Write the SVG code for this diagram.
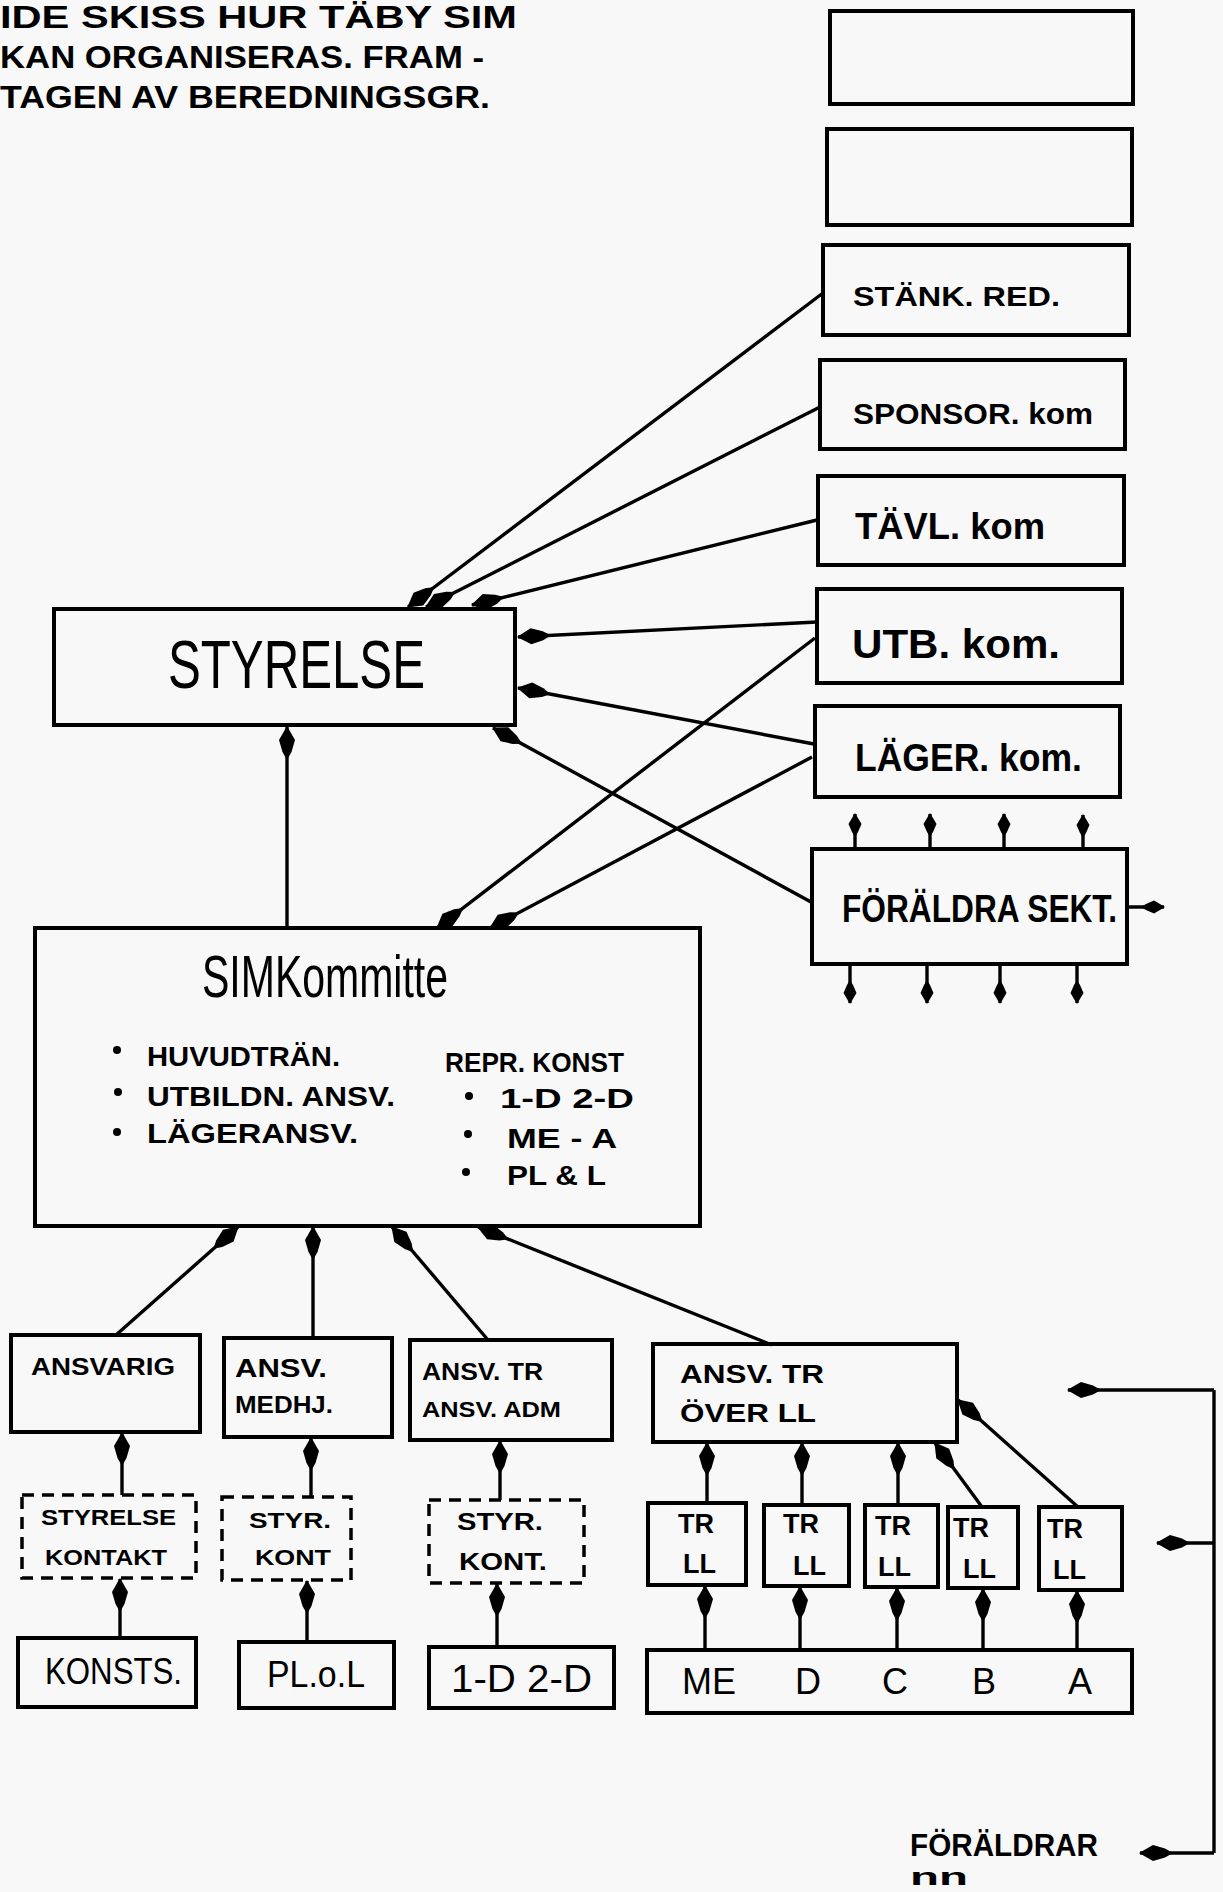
<svg xmlns="http://www.w3.org/2000/svg" width="1223" height="1892" viewBox="0 0 1223 1892">
<defs>
<style>
.bx{fill:none;stroke:#000;stroke-width:4}
.dbx{fill:none;stroke:#000;stroke-width:3.5;stroke-dasharray:12 8}
.cn{fill:none;stroke:#000;stroke-width:3.4}
.t{font-family:"Liberation Sans","DejaVu Sans",sans-serif;font-weight:bold;fill:#000}
.tn{font-family:"Liberation Sans","DejaVu Sans",sans-serif;font-weight:normal;fill:#000}
.dot{fill:#000}
</style>
<marker id="ah" viewBox="0 0 34 18" refX="33" refY="9" markerWidth="34" markerHeight="18" markerUnits="userSpaceOnUse" orient="auto">
<path d="M34,9 L20,1 L8,4.5 L0,9 L8,13.5 L20,17 Z" fill="#000"/>
</marker>
<marker id="ahs" viewBox="0 0 24 14" refX="23" refY="7" markerWidth="24" markerHeight="14" markerUnits="userSpaceOnUse" orient="auto">
<path d="M24,7 L13,0.5 L5,4 L0,7 L5,10 L13,13.5 Z" fill="#000"/>
</marker>
</defs>
<rect x="0" y="0" width="1223" height="1892" fill="#f8f8f8"/>

<g id="header">
<text class="t" x="0" y="28" font-size="32" textLength="517" lengthAdjust="spacingAndGlyphs">IDE SKISS HUR TÄBY SIM</text>
<text class="t" x="0" y="68" font-size="32" textLength="484" lengthAdjust="spacingAndGlyphs">KAN ORGANISERAS. FRAM -</text>
<text class="t" x="0" y="108" font-size="32" textLength="490" lengthAdjust="spacingAndGlyphs">TAGEN AV BEREDNINGSGR.</text>
</g>

<g id="connectors">
<path class="cn" d="M823,293 L408,607" marker-end="url(#ah)"/>
<path class="cn" d="M820,407 L426,607" marker-end="url(#ah)"/>
<path class="cn" d="M817,520 L472,605" marker-end="url(#ah)"/>
<path class="cn" d="M817,622 L518,637" marker-end="url(#ah)"/>
<path class="cn" d="M814,744 L518,688" marker-end="url(#ah)"/>
<path class="cn" d="M811,902 L493,728" marker-end="url(#ah)"/>
<path class="cn" d="M815,638 L437,928" marker-end="url(#ah)"/>
<path class="cn" d="M812,757 L490,928" marker-end="url(#ah)"/>
<path class="cn" d="M287,928 L287,727" marker-end="url(#ah)"/>
<path class="cn" d="M855,849 L855,814" marker-end="url(#ahs)"/>
<path class="cn" d="M930,849 L930,814" marker-end="url(#ahs)"/>
<path class="cn" d="M1004,849 L1004,814" marker-end="url(#ahs)"/>
<path class="cn" d="M1083,849 L1083,815" marker-end="url(#ahs)"/>
<path class="cn" d="M850,965 L850,1003" marker-end="url(#ahs)"/>
<path class="cn" d="M927,965 L927,1003" marker-end="url(#ahs)"/>
<path class="cn" d="M1000,965 L1000,1003" marker-end="url(#ahs)"/>
<path class="cn" d="M1077,965 L1077,1003" marker-end="url(#ahs)"/>
<path class="cn" d="M1127,907 L1164,907" marker-end="url(#ahs)"/>
<path class="cn" d="M116,1335 L238,1227" marker-end="url(#ah)"/>
<path class="cn" d="M313,1338 L313,1227" marker-end="url(#ah)"/>
<path class="cn" d="M488,1340 L392,1227" marker-end="url(#ah)"/>
<path class="cn" d="M772,1345 L478,1227" marker-end="url(#ah)"/>
<path class="cn" d="M122,1495 L122,1433" marker-end="url(#ah)"/>
<path class="cn" d="M311,1497 L311,1438" marker-end="url(#ah)"/>
<path class="cn" d="M500,1500 L500,1441" marker-end="url(#ah)"/>
<path class="cn" d="M120,1638 L120,1579" marker-end="url(#ah)"/>
<path class="cn" d="M307,1642 L307,1581" marker-end="url(#ah)"/>
<path class="cn" d="M497,1647 L497,1584" marker-end="url(#ah)"/>
<path class="cn" d="M707,1503 L707,1443" marker-end="url(#ah)"/>
<path class="cn" d="M802,1505 L802,1443" marker-end="url(#ah)"/>
<path class="cn" d="M898,1505 L898,1443" marker-end="url(#ah)"/>
<path class="cn" d="M982,1507 L935,1443" marker-end="url(#ah)"/>
<path class="cn" d="M1078,1507 L958,1400" marker-end="url(#ah)"/>
<path class="cn" d="M705,1650 L705,1586" marker-end="url(#ah)"/>
<path class="cn" d="M800,1650 L800,1587" marker-end="url(#ah)"/>
<path class="cn" d="M897,1650 L897,1588" marker-end="url(#ah)"/>
<path class="cn" d="M983,1650 L983,1589" marker-end="url(#ah)"/>
<path class="cn" d="M1077,1650 L1077,1591" marker-end="url(#ah)"/>
<path class="cn" d="M1214,1390 L1214,1853"/>
<path class="cn" d="M1214,1390 L1068,1390" marker-end="url(#ah)"/>
<path class="cn" d="M1214,1543 L1157,1543" marker-end="url(#ah)"/>
<path class="cn" d="M1214,1853 L1140,1853" marker-end="url(#ah)"/>
</g>

<g id="box-empty-1"><rect class="bx" x="830" y="11" width="303" height="93"/></g>
<g id="box-empty-2"><rect class="bx" x="827" y="129" width="305" height="96"/></g>
<g id="stank-red"><rect class="bx" x="823" y="245" width="306" height="90"/>
<text class="t" x="853" y="306" font-size="28" textLength="207" lengthAdjust="spacingAndGlyphs">STÄNK. RED.</text></g>
<g id="sponsor-kom"><rect class="bx" x="820" y="360" width="305" height="89"/>
<text class="t" x="853" y="424" font-size="30" textLength="240" lengthAdjust="spacingAndGlyphs">SPONSOR. kom</text></g>
<g id="tavl-kom"><rect class="bx" x="818" y="476" width="306" height="89"/>
<text class="t" x="855" y="539" font-size="36" textLength="190" lengthAdjust="spacingAndGlyphs">TÄVL. kom</text></g>
<g id="utb-kom"><rect class="bx" x="817" y="589" width="305" height="94"/>
<text class="t" x="852" y="658" font-size="40" textLength="208" lengthAdjust="spacingAndGlyphs">UTB. kom.</text></g>
<g id="lager-kom"><rect class="bx" x="815" y="706" width="305" height="91"/>
<text class="t" x="855" y="771" font-size="38" textLength="227" lengthAdjust="spacingAndGlyphs">LÄGER. kom.</text></g>
<g id="foraldra-sekt"><rect class="bx" x="812" y="849" width="315" height="115"/>
<text class="t" x="842" y="922" font-size="38" textLength="275" lengthAdjust="spacingAndGlyphs">FÖRÄLDRA SEKT.</text></g>

<g id="styrelse"><rect class="bx" x="54" y="609" width="461" height="116"/>
<text class="tn" x="168" y="688" font-size="68" textLength="257" lengthAdjust="spacingAndGlyphs">STYRELSE</text></g>

<g id="simkommitte"><rect class="bx" x="35" y="928" width="665" height="298"/>
<text class="tn" x="202" y="997" font-size="60" textLength="246" lengthAdjust="spacingAndGlyphs">SIMKommitte</text>
<circle class="dot" cx="117" cy="1050" r="4"/>
<circle class="dot" cx="118" cy="1092" r="4"/>
<circle class="dot" cx="117" cy="1132" r="4"/>
<text class="t" x="147" y="1066" font-size="28" textLength="193" lengthAdjust="spacingAndGlyphs">HUVUDTRÄN.</text>
<text class="t" x="147" y="1106" font-size="28" textLength="248" lengthAdjust="spacingAndGlyphs">UTBILDN. ANSV.</text>
<text class="t" x="147" y="1143" font-size="28" textLength="211" lengthAdjust="spacingAndGlyphs">LÄGERANSV.</text>
<text class="t" x="445" y="1072" font-size="28" textLength="179" lengthAdjust="spacingAndGlyphs">REPR. KONST</text>
<circle class="dot" cx="469" cy="1096" r="4"/>
<circle class="dot" cx="468" cy="1134" r="4"/>
<circle class="dot" cx="466" cy="1172" r="4"/>
<text class="t" x="500" y="1108" font-size="28" textLength="134" lengthAdjust="spacingAndGlyphs">1-D 2-D</text>
<text class="t" x="507" y="1148" font-size="28" textLength="110" lengthAdjust="spacingAndGlyphs">ME - A</text>
<text class="t" x="507" y="1185" font-size="28" textLength="99" lengthAdjust="spacingAndGlyphs">PL &amp; L</text>
</g>

<g id="ansvarig"><rect class="bx" x="11" y="1335" width="189" height="97"/>
<text class="t" x="31" y="1375" font-size="24" textLength="144" lengthAdjust="spacingAndGlyphs">ANSVARIG</text></g>
<g id="ansv-medhj"><rect class="bx" x="224" y="1338" width="168" height="99"/>
<text class="t" x="235" y="1377" font-size="26" textLength="92" lengthAdjust="spacingAndGlyphs">ANSV.</text>
<text class="t" x="235" y="1413" font-size="24" textLength="98" lengthAdjust="spacingAndGlyphs">MEDHJ.</text></g>
<g id="ansv-tr-adm"><rect class="bx" x="410" y="1340" width="202" height="100"/>
<text class="t" x="422" y="1380" font-size="24" textLength="121" lengthAdjust="spacingAndGlyphs">ANSV. TR</text>
<text class="t" x="422" y="1417" font-size="22" textLength="139" lengthAdjust="spacingAndGlyphs">ANSV. ADM</text></g>
<g id="ansv-tr-over-ll"><rect class="bx" x="653" y="1344" width="304" height="98"/>
<text class="t" x="680" y="1383" font-size="26" textLength="144" lengthAdjust="spacingAndGlyphs">ANSV. TR</text>
<text class="t" x="680" y="1422" font-size="26" textLength="136" lengthAdjust="spacingAndGlyphs">ÖVER LL</text></g>

<g id="styrelse-kontakt"><rect class="dbx" x="22" y="1495" width="174" height="83"/>
<text class="t" x="41" y="1525" font-size="22" textLength="135" lengthAdjust="spacingAndGlyphs">STYRELSE</text>
<text class="t" x="45" y="1565" font-size="22" textLength="122" lengthAdjust="spacingAndGlyphs">KONTAKT</text></g>
<g id="styr-kont-1"><rect class="dbx" x="222" y="1497" width="129" height="83"/>
<text class="t" x="249" y="1528" font-size="22" textLength="82" lengthAdjust="spacingAndGlyphs">STYR.</text>
<text class="t" x="255" y="1565" font-size="22" textLength="76" lengthAdjust="spacingAndGlyphs">KONT</text></g>
<g id="styr-kont-2"><rect class="dbx" x="429" y="1500" width="155" height="83"/>
<text class="t" x="457" y="1530" font-size="24" textLength="86" lengthAdjust="spacingAndGlyphs">STYR.</text>
<text class="t" x="459" y="1570" font-size="24" textLength="88" lengthAdjust="spacingAndGlyphs">KONT.</text></g>

<g id="tr-ll-1"><rect class="bx" x="648" y="1503" width="98" height="82"/>
<text class="t" x="678" y="1533" font-size="27">TR</text><text class="t" x="683" y="1573" font-size="27">LL</text></g>
<g id="tr-ll-2"><rect class="bx" x="764" y="1505" width="85" height="81"/>
<text class="t" x="783" y="1533" font-size="27">TR</text><text class="t" x="793" y="1575" font-size="27">LL</text></g>
<g id="tr-ll-3"><rect class="bx" x="865" y="1505" width="73" height="82"/>
<text class="t" x="875" y="1535" font-size="27">TR</text><text class="t" x="878" y="1576" font-size="27">LL</text></g>
<g id="tr-ll-4"><rect class="bx" x="948" y="1507" width="70" height="81"/>
<text class="t" x="953" y="1537" font-size="27">TR</text><text class="t" x="963" y="1578" font-size="27">LL</text></g>
<g id="tr-ll-5"><rect class="bx" x="1039" y="1507" width="83" height="83"/>
<text class="t" x="1047" y="1538" font-size="27">TR</text><text class="t" x="1053" y="1579" font-size="27">LL</text></g>

<g id="konsts"><rect class="bx" x="18" y="1638" width="178" height="69"/>
<text class="tn" x="45" y="1684" font-size="36" textLength="137" lengthAdjust="spacingAndGlyphs">KONSTS.</text></g>
<g id="pl-o-l"><rect class="bx" x="239" y="1642" width="155" height="66"/>
<text class="tn" x="267" y="1687" font-size="36" textLength="98" lengthAdjust="spacingAndGlyphs">PL.o.L</text></g>
<g id="d1-d2"><rect class="bx" x="429" y="1647" width="185" height="61"/>
<text class="tn" x="451" y="1692" font-size="38" textLength="141" lengthAdjust="spacingAndGlyphs">1-D 2-D</text></g>
<g id="groups"><rect class="bx" x="647" y="1650" width="485" height="63"/>
<text class="tn" y="1694" font-size="36"><tspan x="682">ME</tspan><tspan x="795">D</tspan><tspan x="882">C</tspan><tspan x="972">B</tspan><tspan x="1068">A</tspan></text></g>

<g id="foraldrar">
<text class="t" x="910" y="1856" font-size="32" textLength="188" lengthAdjust="spacingAndGlyphs">FÖRÄLDRAR</text>
<text class="t" x="910" y="1885" font-size="24" textLength="58" lengthAdjust="spacingAndGlyphs">nn</text>
</g>
</svg>
